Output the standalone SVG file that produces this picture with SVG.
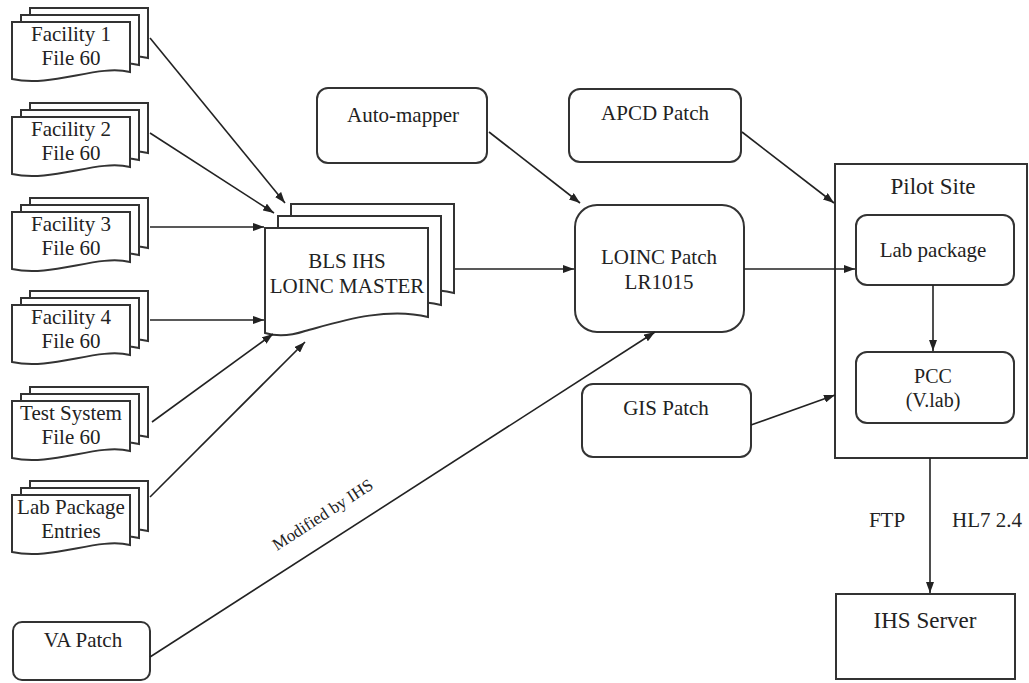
<svg xmlns="http://www.w3.org/2000/svg" width="1029" height="683" viewBox="0 0 1029 683">
<style>
.shape{fill:#fff;stroke:#333;stroke-width:2}
.frame{fill:none;stroke:#333;stroke-width:2}
.t{font-family:"Liberation Serif","Times New Roman",serif;font-size:21px;fill:#222;text-anchor:middle}
.big{font-size:23px}
.sm{font-size:20px}
.lbl{font-size:17px;text-anchor:start}
.c{stroke:#222;stroke-width:1.6;fill:none}
.a{marker-end:url(#arr)}
</style>
<defs>
<marker id="arr" markerUnits="userSpaceOnUse" markerWidth="11" markerHeight="8" refX="11" refY="4" orient="auto">
<path d="M0,0 L11,4 L0,8 Z" fill="#222"/>
</marker>
<path id="doc" d="M0,0 H118 V50 C85,42 40,66 0,57 Z"/>
<g id="stack">
<use href="#doc" x="18" y="-14" class="shape"/>
<use href="#doc" x="9" y="-7" class="shape"/>
<use href="#doc" class="shape"/>
</g>
<path id="bdoc" d="M0,0 H163 V89 C120,78 70,95 40,103 C25,108 10,108 0,105 Z"/>
</defs>
<rect width="1029" height="683" fill="#fff"/>

<g id="facility1" transform="translate(12,22)">
<use href="#stack"/>
<text class="t" x="59" y="19">Facility 1</text>
<text class="t" x="59" y="43">File 60</text>
</g>
<g id="facility2" transform="translate(12,117)">
<use href="#stack"/>
<text class="t" x="59" y="19">Facility 2</text>
<text class="t" x="59" y="43">File 60</text>
</g>
<g id="facility3" transform="translate(12,212)">
<use href="#stack"/>
<text class="t" x="59" y="19">Facility 3</text>
<text class="t" x="59" y="43">File 60</text>
</g>
<g id="facility4" transform="translate(12,305)">
<use href="#stack"/>
<text class="t" x="59" y="19">Facility 4</text>
<text class="t" x="59" y="43">File 60</text>
</g>
<g id="testsystem" transform="translate(12,401)">
<use href="#stack"/>
<text class="t" x="59" y="19">Test System</text>
<text class="t" x="59" y="43">File 60</text>
</g>
<g id="labpackageentries" transform="translate(12,495)">
<use href="#stack"/>
<text class="t" x="59" y="19">Lab Package</text>
<text class="t" x="59" y="43">Entries</text>
</g>

<g id="blsmaster" transform="translate(265,228)">
<use href="#bdoc" x="26" y="-24" class="shape"/>
<use href="#bdoc" x="13" y="-12" class="shape"/>
<use href="#bdoc" class="shape"/>
<text class="t" x="82" y="40">BLS IHS</text>
<text class="t" x="82" y="65">LOINC MASTER</text>
</g>

<g id="automapper">
<rect class="shape" x="317" y="88" width="170" height="75" rx="11"/>
<text class="t" x="403" y="122">Auto-mapper</text>
</g>
<g id="apcd">
<rect class="shape" x="569" y="89" width="172" height="73" rx="11"/>
<text class="t" x="655" y="120">APCD Patch</text>
</g>
<g id="loinc">
<rect class="shape" x="575" y="205" width="169" height="127" rx="22"/>
<text class="t" x="659" y="264">LOINC Patch</text>
<text class="t" x="659" y="289">LR1015</text>
</g>
<g id="gis">
<rect class="shape" x="582" y="384" width="169" height="73" rx="11"/>
<text class="t" x="666" y="415">GIS Patch</text>
</g>
<g id="vapatch">
<rect class="shape" x="13" y="622" width="137" height="58" rx="9"/>
<text class="t" x="83" y="647">VA Patch</text>
</g>
<g id="pilotsite">
<rect class="frame" x="835" y="164" width="192" height="294"/>
<text class="t big" x="933" y="194">Pilot Site</text>
</g>
<g id="labpackage">
<rect class="shape" x="856" y="215" width="158" height="70" rx="11"/>
<text class="t" x="933" y="257">Lab package</text>
</g>
<g id="pcc">
<rect class="shape" x="856" y="352" width="158" height="71" rx="11"/>
<text class="t sm" x="933" y="383">PCC</text>
<text class="t sm" x="933" y="407">(V.lab)</text>
</g>
<g id="ihsserver">
<rect class="shape" x="836" y="594" width="179" height="85"/>
<text class="t big" x="925" y="628">IHS Server</text>
</g>

<g id="connectors">
<line class="c a" x1="150" y1="38" x2="285" y2="203"/>
<line class="c a" x1="150" y1="133" x2="274" y2="213"/>
<line class="c a" x1="150" y1="227" x2="264" y2="227"/>
<line class="c a" x1="150" y1="320" x2="264" y2="320"/>
<line class="c a" x1="152" y1="422" x2="273" y2="334"/>
<line class="c a" x1="150" y1="497" x2="305" y2="342"/>
<line class="c a" x1="455" y1="269" x2="574" y2="269"/>
<line class="c a" x1="489" y1="132" x2="580" y2="203"/>
<line class="c a" x1="150" y1="657" x2="655" y2="332"/>
<line class="c a" x1="744" y1="269" x2="855" y2="269"/>
<line class="c a" x1="742" y1="132" x2="834" y2="203"/>
<line class="c a" x1="751" y1="425" x2="835" y2="395"/>
<line class="c a" x1="933" y1="285" x2="933" y2="351"/>
<line class="c a" x1="930" y1="458" x2="930" y2="593"/>
<text class="t lbl" transform="translate(277,551) rotate(-33)">Modified by IHS</text>
<text class="t" x="887" y="527">FTP</text>
<text class="t" x="987" y="527">HL7 2.4</text>
</g>
</svg>
